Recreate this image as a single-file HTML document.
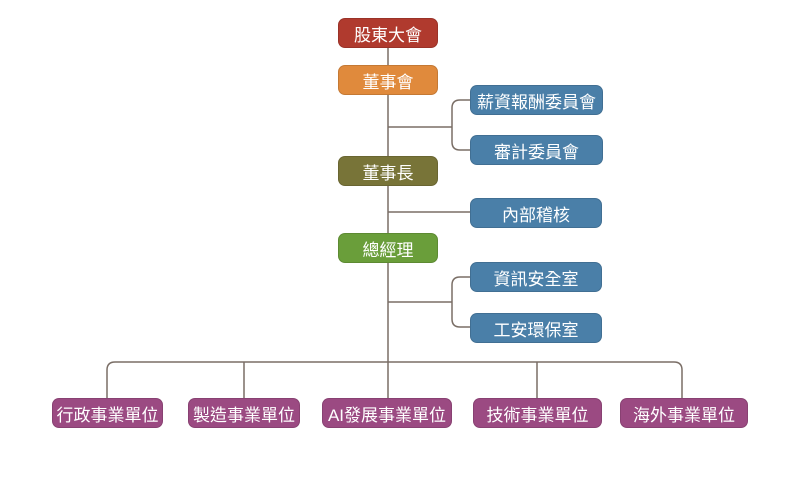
<!DOCTYPE html><html><head><meta charset="utf-8"><style>
body{margin:0;width:800px;height:479px;background:#fff;position:relative;overflow:hidden;font-family:"Liberation Sans","Noto Sans CJK TC",sans-serif}
.b{position:absolute;color:#fff;font-size:17px;display:flex;align-items:center;justify-content:center;border-radius:7px;height:30px;box-sizing:border-box;border:1px solid rgba(0,0,0,0.12)}
svg{position:absolute;left:0;top:0}
</style></head><body>
<svg width="800" height="479"><g fill="none" stroke="#7a6e66" stroke-width="1.5">
<path d="M388 47V398"/>
<path d="M388 127H452M470 100H460Q452 100 452 108V142Q452 150 460 150H470"/>
<path d="M388 212H470"/>
<path d="M388 302H452M470 277H460Q452 277 452 285V319Q452 327 460 327H470"/>
<path d="M107 398V370Q107 362 115 362H674Q682 362 682 370V398"/>
<path d="M244 362V398M537 362V398"/>
</g></svg>
<div class="b" style="left:338px;top:18px;width:100px;background:#b03a2e">股東大會</div>
<div class="b" style="left:338px;top:65px;width:100px;background:#e08a3c">董事會</div>
<div class="b" style="left:338px;top:156px;width:100px;background:#787438">董事長</div>
<div class="b" style="left:338px;top:233px;width:100px;background:#6a9e3a">總經理</div>
<div class="b" style="left:470px;top:85px;width:133px;background:#4a7fa8">薪資報酬委員會</div>
<div class="b" style="left:470px;top:135px;width:133px;background:#4a7fa8">審計委員會</div>
<div class="b" style="left:470px;top:198px;width:132px;background:#4a7fa8">內部稽核</div>
<div class="b" style="left:470px;top:262px;width:132px;background:#4a7fa8">資訊安全室</div>
<div class="b" style="left:470px;top:313px;width:132px;background:#4a7fa8">工安環保室</div>
<div class="b" style="left:52px;top:398px;width:111px;background:#9b4a82">行政事業單位</div>
<div class="b" style="left:188px;top:398px;width:112px;background:#9b4a82">製造事業單位</div>
<div class="b" style="left:322px;top:398px;width:130px;background:#9b4a82">AI發展事業單位</div>
<div class="b" style="left:473px;top:398px;width:129px;background:#9b4a82">技術事業單位</div>
<div class="b" style="left:620px;top:398px;width:128px;background:#9b4a82">海外事業單位</div>
</body></html>
